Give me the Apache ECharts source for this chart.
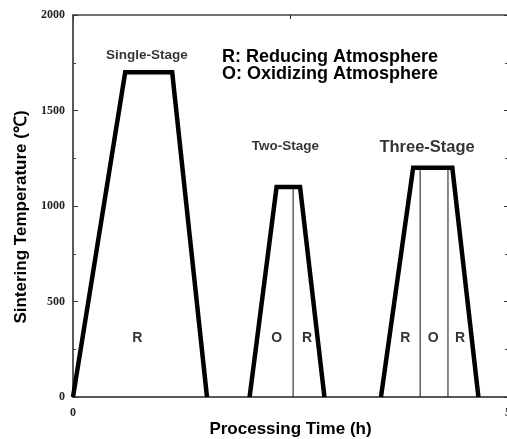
<!DOCTYPE html>
<html>
<head>
<meta charset="utf-8">
<script src="https://cdn.jsdelivr.net/npm/echarts@6/dist/echarts.min.js"></script>
<style>html,body{margin:0;padding:0;background:#fff}#c{width:507px;height:439px}</style>
</head>
<body>
<div id="c"></div>
<script>
// Processing time (h) and sintering temperature (°C) for each profile
const singleTime = [0, 0.6, 1.14, 1.54];
const singleTemp = [0, 1700, 1700, 0];
const twoTime = [2.03, 2.34, 2.61, 2.89];
const twoTemp = [0, 1100, 1100, 0];
const threeTime = [3.54, 3.91, 4.36, 4.66];
const threeTemp = [0, 1200, 1200, 0];
// atmosphere boundaries (h)
const twoDividers = [2.53];
const threeDividers = [3.99, 4.31];
// atmosphere region labels
const atmLabels = ['R', 'O', 'R', 'R', 'O', 'R'];
const atmTime = [0.74, 2.34, 2.69, 3.82, 4.14, 4.45];
const atmTemp = [310, 310, 310, 310, 310, 310];
// stage titles
const stageNames = ['Single-Stage', 'Two-Stage', 'Three-Stage'];
const stageTime = [0.85, 2.44, 4.07];
const stageTemp = [1790, 1314, 1309];
const yTicks = [0, 500, 1000, 1500, 2000];
const xTickLabels = ['0', '5'];

const zip = (a, b) => a.map((v, i) => [v, b[i]]);
const chart = echarts.init(document.getElementById('c'), null, {renderer: 'canvas'});

const profileStyle = {color: '#000', width: 4.5, join: 'miter'};
const series = [];
[[singleTime, singleTemp], [twoTime, twoTemp], [threeTime, threeTemp]].forEach(([t, v]) => {
  series.push({type: 'line', data: zip(t, v), symbol: 'none', lineStyle: profileStyle, z: 5, silent: true});
});
twoDividers.forEach(d => series.push({type: 'line', data: [[d, 0], [d, twoTemp[1]]], symbol: 'none', lineStyle: {color: '#111', width: 1}, silent: true}));
threeDividers.forEach(d => series.push({type: 'line', data: [[d, 0], [d, threeTemp[1]]], symbol: 'none', lineStyle: {color: '#111', width: 1}, silent: true}));
series.push({
  type: 'scatter', symbolSize: 0, silent: true,
  data: atmLabels.map((l, i) => ({value: [atmTime[i], atmTemp[i]], name: l})),
  label: {show: true, position: 'inside', formatter: p => p.name, color: '#000', fontFamily: 'Liberation Sans', fontWeight: 'bold', fontSize: 14}
});
const stageFont = [13.5, 13.5, 16.5];
const stageSpacing = [0.9, 1.2, 0.6];
series.push({
  type: 'scatter', symbolSize: 0, silent: true,
  data: stageNames.map((l, i) => ({value: [stageTime[i], stageTemp[i]], name: l,
    label: {fontSize: stageFont[i], letterSpacing: stageSpacing[i]}})),
  label: {show: true, position: 'inside', formatter: p => p.name, color: '#000', fontFamily: 'Liberation Sans', fontWeight: 'bold'}
});

const axisLine = {show: true, onZero: false, lineStyle: {color: '#222', width: 1.5}};
chart.setOption({
  animation: false,
  backgroundColor: '#fff',
  grid: {left: 73, top: 15, width: 435, bottom: 42, containLabel: false, outerBoundsMode: 'none'},
  graphic: [{
    type: 'text', left: 222, top: 48,
    style: {text: 'R: Reducing Atmosphere\nO: Oxidizing Atmosphere', fontFamily: 'Liberation Sans', fontWeight: 'bold', fontSize: 18, lineHeight: 17, fill: '#000'}
  }],
  xAxis: [{
    type: 'value', min: 0, max: 5, interval: 5, position: 'bottom',
    axisLine, axisTick: {show: false}, splitLine: {show: false},
    axisLabel: {formatter: v => (v === 0 ? xTickLabels[0] : v === 5 ? xTickLabels[1] : ''), fontFamily: 'Liberation Serif', fontWeight: 'bold', fontSize: 12, color: '#222', margin: 10},
    name: 'Processing Time (h)', nameLocation: 'middle', nameGap: 24, nameMoveOverlap: false,
    nameTextStyle: {fontFamily: 'Liberation Sans', fontWeight: 'bold', fontSize: 17, letterSpacing: 1.2, color: '#000'}
  }, {
    type: 'value', min: 0, max: 5, interval: 2.5, position: 'top',
    axisLine: {show: true, onZero: false, lineStyle: {color: '#444', width: 1.5}},
    axisTick: {show: true, inside: true, length: 4, lineStyle: {color: '#333'}}, axisLabel: {show: false}, splitLine: {show: false}
  }],
  yAxis: [{
    type: 'value', min: 0, max: 2000, interval: 500, position: 'left',
    axisLine, splitLine: {show: false},
    axisTick: {show: true, inside: true, length: 5, lineStyle: {color: '#333'}},
    minorTick: {show: true, splitNumber: 2, length: 3, lineStyle: {color: '#444'}},
    axisLabel: {formatter: v => (yTicks.includes(v) ? String(v) : ''), fontFamily: 'Liberation Serif', fontWeight: 'bold', fontSize: 12, color: '#222', margin: 8},
    name: 'Sintering Temperature (\u2103)', nameLocation: 'middle', nameGap: 42, nameRotate: 90,
    nameTextStyle: {fontFamily: 'Liberation Sans', fontWeight: 'bold', fontSize: 17, letterSpacing: 1.2, color: '#000', padding: [0, 22, 0, 0]}
  }, {
    type: 'value', min: 0, max: 2000, interval: 500, position: 'right',
    axisLine, splitLine: {show: false}, axisLabel: {show: false},
    axisTick: {show: true, inside: true, length: 4, lineStyle: {color: '#333'}},
    minorTick: {show: true, splitNumber: 2, length: 3, lineStyle: {color: '#444'}}
  }],
  series
});
</script>
</body>
</html>
